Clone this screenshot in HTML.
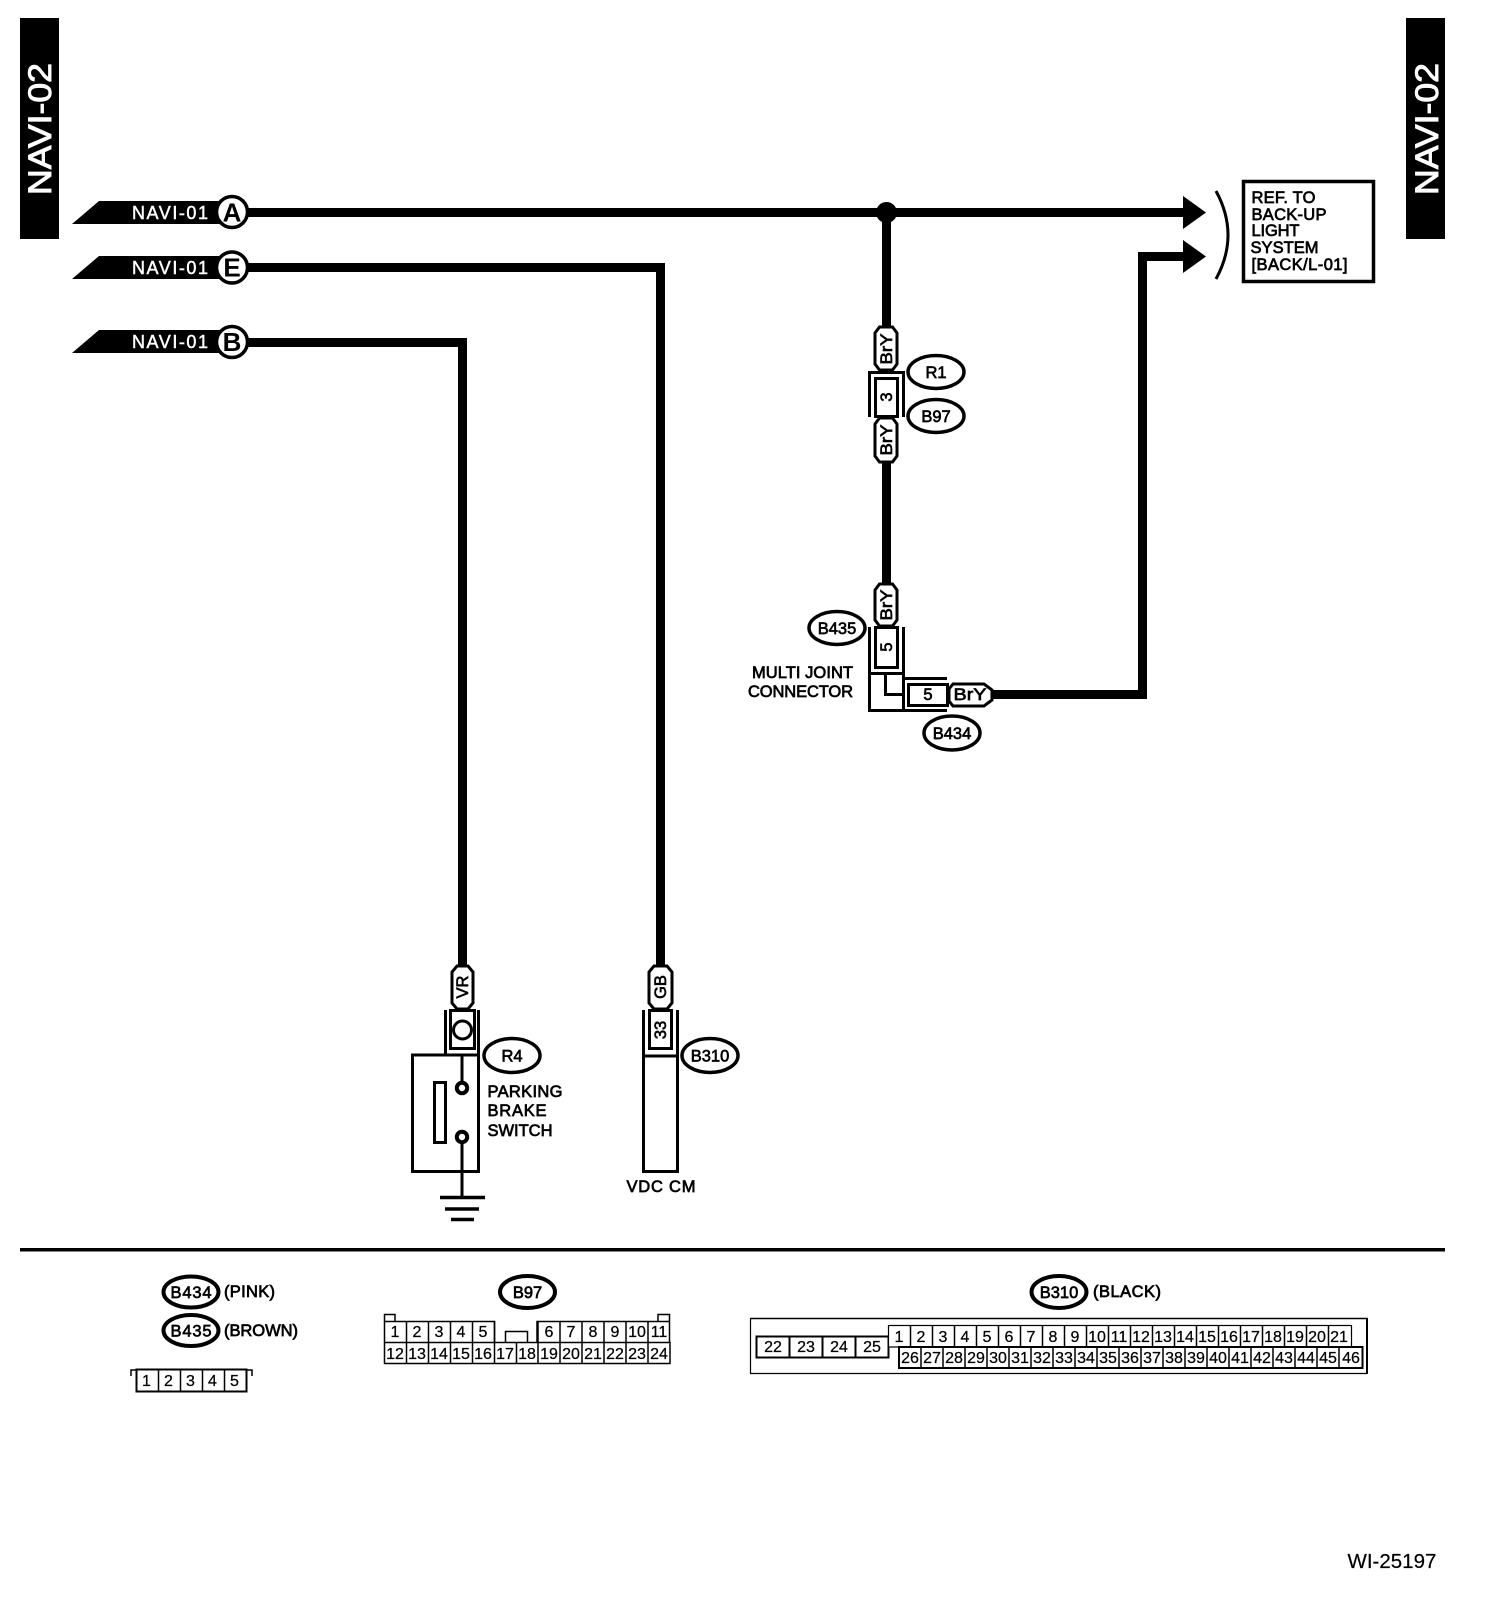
<!DOCTYPE html>
<html><head><meta charset="utf-8"><style>
html,body{margin:0;padding:0;background:#fff}
svg{display:block}
text{font-family:"Liberation Sans",sans-serif;fill:#000}
.m{font-size:16.5px;stroke:#000;stroke-width:.7}
.n{font-size:16px;text-anchor:middle;stroke:#000;stroke-width:.25}
.e{fill:#fff;stroke:#000;stroke-width:3.5}
.p{fill:#fff;stroke:#000;stroke-width:3}
.l{fill:none;stroke:#000;stroke-width:3}
.c{fill:#fff;stroke:#000;stroke-width:1.5}
.t{font-size:18px;fill:#fff;stroke:#fff;stroke-width:.45}
.f{font-size:26px;font-weight:bold;text-anchor:middle}
.v{font-size:16.5px;text-anchor:middle;stroke:#000;stroke-width:.65}
.h{font-size:32px;fill:#fff;stroke:#fff;stroke-width:.9}
</style></head><body>
<svg width="1504" height="1600" viewBox="0 0 1504 1600" xmlns="http://www.w3.org/2000/svg">
<rect width="1504" height="1600" fill="#fff"/>

<!-- side tabs -->
<rect x="20" y="18" width="39" height="221" fill="#000"/>
<rect x="1406" y="18" width="39" height="221" fill="#000"/>
<text class="h" transform="translate(51,195) rotate(-90)" textLength="132" lengthAdjust="spacingAndGlyphs">NAVI-02</text>
<text class="h" transform="translate(1438,195) rotate(-90)" textLength="132" lengthAdjust="spacingAndGlyphs">NAVI-02</text>

<!-- wires -->
<g fill="none" stroke="#000" stroke-width="9">
<path d="M232 212.5H1185"/>
<path d="M232 267.5H660.5V975"/>
<path d="M232 342.5H462.5V975"/>
<path d="M886.5 212V330M886.5 458V590"/>
<path d="M990 694.5H1142.5V256.5H1185"/>
</g>
<circle cx="886.5" cy="212.5" r="10.5" fill="#000"/>
<polygon points="1183,196 1206,212.5 1183,229" fill="#000"/>
<polygon points="1183,240 1206,256.5 1183,273" fill="#000"/>

<!-- tags -->
<polygon points="72,224 99,201 232,201 232,224" fill="#000"/>
<polygon points="72,279 99,256 232,256 232,279" fill="#000"/>
<polygon points="72,353 99,330 232,330 232,353" fill="#000"/>
<text class="t" x="132" y="219" textLength="76">NAVI-01</text>
<text class="t" x="132" y="274" textLength="76">NAVI-01</text>
<text class="t" x="132" y="348" textLength="76">NAVI-01</text>
<circle cx="232" cy="212" r="15.5" fill="#fff" stroke="#000" stroke-width="3.5"/>
<circle cx="232" cy="267.5" r="15.5" fill="#fff" stroke="#000" stroke-width="3.5"/>
<circle cx="232" cy="342" r="15.5" fill="#fff" stroke="#000" stroke-width="3.5"/>
<text class="f" x="232" y="221.5">A</text>
<text class="f" x="232" y="276.5">E</text>
<text class="f" x="232" y="351">B</text>

<!-- ref box -->
<path d="M1216 191Q1240 235 1216 279" class="l"/>
<rect x="1243.5" y="181.5" width="130" height="100" fill="#fff" stroke="#000" stroke-width="3.5"/>
<text x="1251.5" y="203" class="m" textLength="64">REF. TO</text>
<text x="1251.5" y="220" class="m" textLength="75">BACK-UP</text>
<text x="1251.5" y="236" class="m" textLength="48">LIGHT</text>
<text x="1250.5" y="253" class="m" textLength="68">SYSTEM</text>
<text x="1251.5" y="270" class="m" textLength="96">[BACK/L-01]</text>

<!-- top connector R1/B97 -->
<path class="p" d="M879.5 327H892.5L897 333V364L892.5 370H879.5L875 364V333Z"/>
<path class="p" d="M879.5 418H892.5L897 424V456L892.5 462H879.5L875 456V424Z"/>
<path class="l" d="M869.5 417V372.5H905M903.5 372.5V417"/>
<rect x="875.5" y="378.5" width="22" height="38" class="p"/>
<text transform="translate(892,349) rotate(-90)" class="v" textLength="31" lengthAdjust="spacingAndGlyphs">BrY</text>
<text transform="translate(892,440) rotate(-90)" class="v" textLength="31" lengthAdjust="spacingAndGlyphs">BrY</text>
<text transform="translate(892,397) rotate(-90)" class="v">3</text>
<ellipse class="e" cx="936" cy="372" rx="28" ry="16.5"/>
<ellipse class="e" cx="936" cy="416" rx="28" ry="16.5"/>
<text class="v" x="936" y="378">R1</text>
<text class="v" x="936" y="422">B97</text>

<!-- multi joint -->
<path class="p" d="M879.5 584H892.5L897 590V620L892.5 626H879.5L875 620V590Z"/>
<rect x="875.5" y="627.5" width="22" height="40" class="p"/>
<text transform="translate(892,605) rotate(-90)" class="v" textLength="31" lengthAdjust="spacingAndGlyphs">BrY</text>
<text transform="translate(892,647) rotate(-90)" class="v">5</text>
<path class="l" d="M869.5 627V710.5H947M869.5 673.5H904M903.5 627V710.5M885.5 673.5V694.5H904M904 678.500H947"/>
<rect x="908.5" y="684.5" width="39" height="21" class="p"/>
<text class="v" x="928" y="700">5</text>
<path class="p" d="M953 684H984L992 690V700L984 706H953L949 701V689Z"/>
<text class="v" x="970" y="700" textLength="33" lengthAdjust="spacingAndGlyphs">BrY</text>
<ellipse class="e" cx="837" cy="628" rx="28" ry="16.5"/>
<ellipse class="e" cx="952" cy="733" rx="28" ry="17"/>
<text class="v" x="837" y="634">B435</text>
<text class="v" x="952" y="739">B434</text>
<text class="m" x="752" y="678" textLength="101">MULTI JOINT</text>
<text class="m" x="748" y="697" textLength="105">CONNECTOR</text>

<!-- parking brake switch -->
<path class="p" d="M457 966H468L473 972V1003L468 1009H457L452 1003V972Z"/>
<text transform="translate(468,987) rotate(-90)" class="v">VR</text>
<path class="l" d="M445.5 1010V1054M478.5 1010V1054"/>
<rect x="450.5" y="1010.5" width="24" height="38" class="p"/>
<circle cx="462.5" cy="1030" r="9" class="p"/>
<rect x="412.5" y="1055" width="66" height="116.5" class="l"/>
<rect x="434.5" y="1082.5" width="11" height="60" class="l"/>
<path d="M462 1055V1082M462 1143V1197" class="l"/>
<circle cx="462" cy="1088" r="5.2" fill="#fff" stroke="#000" stroke-width="4"/>
<circle cx="462" cy="1137" r="5.2" fill="#fff" stroke="#000" stroke-width="4"/>
<path d="M440 1197.5H485M445 1209H479M451 1219.5H474" stroke="#000" stroke-width="3.5" fill="none"/>
<ellipse class="e" cx="512" cy="1055.5" rx="28" ry="17"/>
<text class="v" x="512" y="1061.5">R4</text>
<text class="m" x="487.500" y="1097" textLength="75">PARKING</text>
<text class="m" x="487.500" y="1116" textLength="59">BRAKE</text>
<text class="m" x="487.500" y="1136" textLength="65">SWITCH</text>

<!-- VDC CM -->
<path class="p" d="M654 966H667L672 972V1003L667 1009H654L649 1003V972Z"/>
<text transform="translate(666,987) rotate(-90)" class="v">GB</text>
<rect x="649.5" y="1010.5" width="22" height="38" class="p"/>
<text transform="translate(666,1030) rotate(-90)" class="v">33</text>
<path class="l" d="M643.5 1010V1171.5H677.5V1010M643.5 1056H677.5"/>
<ellipse class="e" cx="710" cy="1055.5" rx="28" ry="17"/>
<text class="v" x="710" y="1061.5">B310</text>
<text class="m" x="626.500" y="1192" textLength="69">VDC CM</text>

<!-- divider -->
<rect x="20" y="1248" width="1425" height="3.5" fill="#000"/>

<!-- legend B434/B435 -->
<ellipse class="e" cx="191" cy="1292" rx="27.5" ry="15.5" style="stroke-width:4"/>
<ellipse class="e" cx="191" cy="1330.5" rx="27.5" ry="15.5" style="stroke-width:4"/>
<text class="v" x="191" y="1298" textLength="41">B434</text>
<text class="v" x="191" y="1336.5" textLength="41">B435</text>
<text class="m" x="224" y="1297" textLength="51">(PINK)</text>
<text class="m" x="224" y="1336" textLength="74">(BROWN)</text>
<path class="c" d="M131 1376V1370H136M247 1370H252V1376"/>
<rect x="136.5" y="1369.5" width="110" height="22" fill="#fff" stroke="#000" stroke-width="2"/>
<path class="c" d="M158.5 1370V1391M180.5 1370V1391M202.5 1370V1391M224.5 1370V1391"/>
<text class="n" x="146.5" y="1386">1</text><text class="n" x="168.5" y="1386">2</text><text class="n" x="190.5" y="1386">3</text><text class="n" x="212.5" y="1386">4</text><text class="n" x="234.5" y="1386">5</text>

<!-- legend B97 -->
<ellipse class="e" cx="527.5" cy="1292" rx="27.5" ry="16" style="stroke-width:4"/>
<text class="v" x="527.5" y="1298">B97</text>
<path class="c" d="M384.5 1321V1314.5H395V1321M658 1321V1314.5H669.5V1321"/>
<path class="c" d="M384.5 1342V1321.5H494.5V1342M537 1342V1321.5H669.5V1342"/>
<path class="c" d="M505.5 1342V1331.5H527.5V1342"/>
<rect x="384.5" y="1342.5" width="285.5" height="21" fill="#fff" stroke="#000" stroke-width="1.5"/>
<path class="c" d="M406.5 1321V1364M428.5 1321V1364M450.5 1321V1364M472.5 1321V1364M494.5 1321V1364M516.5 1342V1364M538 1321V1364M560 1321V1364M582 1321V1364M604 1321V1364M626 1321V1364M648 1321V1364"/>
<text class="n" x="395" y="1337">1</text><text class="n" x="417" y="1337">2</text><text class="n" x="439" y="1337">3</text><text class="n" x="461" y="1337">4</text><text class="n" x="483" y="1337">5</text>
<text class="n" x="549" y="1337">6</text><text class="n" x="571" y="1337">7</text><text class="n" x="593" y="1337">8</text><text class="n" x="615" y="1337">9</text><text class="n" x="637" y="1337">10</text><text class="n" x="659" y="1337">11</text>
<text class="n" x="395" y="1359">12</text><text class="n" x="417" y="1359">13</text><text class="n" x="439" y="1359">14</text><text class="n" x="461" y="1359">15</text><text class="n" x="483" y="1359">16</text><text class="n" x="505" y="1359">17</text><text class="n" x="527" y="1359">18</text><text class="n" x="549" y="1359">19</text><text class="n" x="571" y="1359">20</text><text class="n" x="593" y="1359">21</text><text class="n" x="615" y="1359">22</text><text class="n" x="637" y="1359">23</text><text class="n" x="659" y="1359">24</text>

<!-- legend B310 -->
<ellipse class="e" cx="1059" cy="1292" rx="27.5" ry="16" style="stroke-width:4"/>
<text class="v" x="1059" y="1298">B310</text>
<text class="m" x="1093" y="1297" textLength="68">(BLACK)</text>
<path d="M750.5 1318.5V1373.5H1367" fill="none" stroke="#000" stroke-width="1.2"/>
<path d="M1367 1318V1374" stroke="#000" stroke-width="2"/>
<path d="M750 1318.5H1368" stroke="#000" stroke-width="1.5"/>
<rect x="756.5" y="1336.5" width="132" height="21" fill="#fff" stroke="#000" stroke-width="2"/>
<path d="M789.5 1337V1357M822.5 1337V1357M855.5 1337V1357" stroke="#000" stroke-width="2"/>
<text class="n" x="773" y="1352">22</text><text class="n" x="806" y="1352">23</text><text class="n" x="839" y="1352">24</text><text class="n" x="872" y="1352">25</text>
<rect x="888.5" y="1325.5" width="463" height="21.5" fill="#fff" stroke="#000" stroke-width="1.2"/>
<path class="c" d="M910.5 1326V1347M932.5 1326V1347M954.5 1326V1347M976.5 1326V1347M998.5 1326V1347M1020.5 1326V1347M1042.5 1326V1347M1064.5 1326V1347M1086.5 1326V1347M1108.5 1326V1347M1130.5 1326V1347M1152.5 1326V1347M1174.5 1326V1347M1196.5 1326V1347M1218.5 1326V1347M1240.5 1326V1347M1262.5 1326V1347M1284.5 1326V1347M1306.5 1326V1347M1328.5 1326V1347"/>
<rect x="899" y="1347" width="463.5" height="21" fill="#fff" stroke="#000" stroke-width="2"/>
<path class="c" d="M921 1347V1368M943 1347V1368M965 1347V1368M987 1347V1368M1009 1347V1368M1031 1347V1368M1053 1347V1368M1075 1347V1368M1097 1347V1368M1119 1347V1368M1141 1347V1368M1163 1347V1368M1185 1347V1368M1207 1347V1368M1229 1347V1368M1251 1347V1368M1273 1347V1368M1295 1347V1368M1317 1347V1368M1339 1347V1368"/>
<text class="n" x="899" y="1342">1</text><text class="n" x="921" y="1342">2</text><text class="n" x="943" y="1342">3</text><text class="n" x="965" y="1342">4</text><text class="n" x="987" y="1342">5</text><text class="n" x="1009" y="1342">6</text><text class="n" x="1031" y="1342">7</text><text class="n" x="1053" y="1342">8</text><text class="n" x="1075" y="1342">9</text><text class="n" x="1097" y="1342">10</text><text class="n" x="1119" y="1342">11</text><text class="n" x="1141" y="1342">12</text><text class="n" x="1163" y="1342">13</text><text class="n" x="1185" y="1342">14</text><text class="n" x="1207" y="1342">15</text><text class="n" x="1229" y="1342">16</text><text class="n" x="1251" y="1342">17</text><text class="n" x="1273" y="1342">18</text><text class="n" x="1295" y="1342">19</text><text class="n" x="1317" y="1342">20</text><text class="n" x="1339" y="1342">21</text>
<text class="n" x="910" y="1363">26</text><text class="n" x="932" y="1363">27</text><text class="n" x="954" y="1363">28</text><text class="n" x="976" y="1363">29</text><text class="n" x="998" y="1363">30</text><text class="n" x="1020" y="1363">31</text><text class="n" x="1042" y="1363">32</text><text class="n" x="1064" y="1363">33</text><text class="n" x="1086" y="1363">34</text><text class="n" x="1108" y="1363">35</text><text class="n" x="1130" y="1363">36</text><text class="n" x="1152" y="1363">37</text><text class="n" x="1174" y="1363">38</text><text class="n" x="1196" y="1363">39</text><text class="n" x="1218" y="1363">40</text><text class="n" x="1240" y="1363">41</text><text class="n" x="1262" y="1363">42</text><text class="n" x="1284" y="1363">43</text><text class="n" x="1306" y="1363">44</text><text class="n" x="1328" y="1363">45</text><text class="n" x="1351" y="1363">46</text>

<text x="1347.500" y="1568" font-size="20.5" style="stroke:#000;stroke-width:.2">WI-25197</text>
</svg>
</body></html>
